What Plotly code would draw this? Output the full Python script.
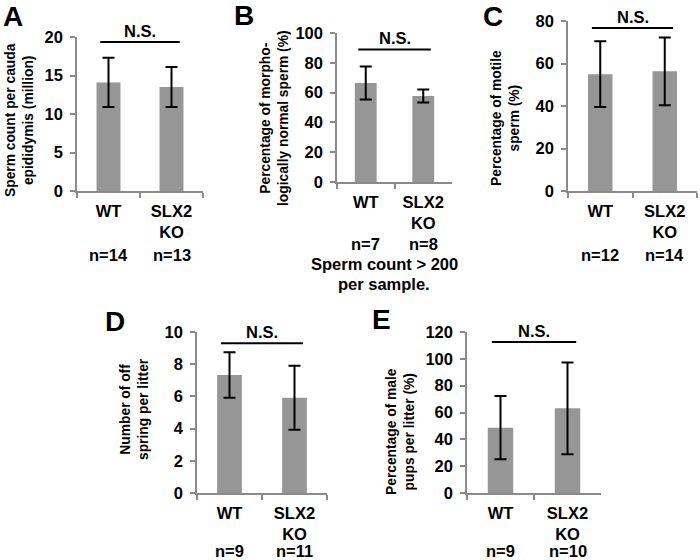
import plotly.graph_objects as go

# ---------------- data ----------------
categories = ["WT", "SLX2<br>KO"]

A_mean = [14.1, 13.5]
A_err = [3.2, 2.6]
A_n = ["n=14", "n=13"]

B_mean = [66.4, 57.7]
B_err = [11.1, 4.3]
B_n = ["n=7", "n=8"]

C_mean = [55.0, 56.3]
C_err = [15.5, 15.9]
C_n = ["n=12", "n=14"]

D_mean = [7.33, 5.92]
D_err = [1.42, 1.99]
D_n = ["n=9", "n=11"]

E_mean = [48.7, 63.1]
E_err = [23.6, 34.2]
E_n = ["n=9", "n=10"]

A_ticks = [0, 5, 10, 15, 20]
B_ticks = [0, 20, 40, 60, 80, 100]
C_ticks = [0, 20, 40, 60, 80]
D_ticks = [0, 2, 4, 6, 8, 10]
E_ticks = [0, 20, 40, 60, 80, 100, 120]

ns_label = "N.S."
B_note = ["Sperm count > 200", "per sample."]

# ---------------- layout helpers ----------------
W, H = 700, 560
FONT = "Liberation Sans, Arial, sans-serif"
AX = "#8a8a8a"
BAR = "#969696"
FS = 16.5


def px_x(x):
    return x / W


def px_y(y):
    return 1 - y / H


panels = [
    dict(letter="A", mean=A_mean, err=A_err, n=A_n, ticks=A_ticks, ymax=20,
         xpx=(77, 203), ypx=(37, 191), title="Sperm count per cauda<br>epididymis (million)",
         tpos=(19, 120), lpos=(13, 16), ns=19.35, ny=255),
    dict(letter="B", mean=B_mean, err=B_err, n=B_n, ticks=B_ticks, ymax=100,
         xpx=(337, 452), ypx=(33, 182), title="Percentage of morpho-<br>logically normal sperm (%)",
         tpos=(274, 118), lpos=(244, 15), ns=89, ny=244),
    dict(letter="C", mean=C_mean, err=C_err, n=C_n, ticks=C_ticks, ymax=80,
         xpx=(568, 697), ypx=(21, 191), title="Percentage of motile<br>sperm (%)",
         tpos=(505, 118), lpos=(493, 16), ns=76.7, ny=255),
    dict(letter="D", mean=D_mean, err=D_err, n=D_n, ticks=D_ticks, ymax=10,
         xpx=(197, 327), ypx=(332, 493), title="Number of off<br>spring per litter",
         tpos=(134, 409), lpos=(115, 321), ns=9.3, ny=551),
    dict(letter="E", mean=E_mean, err=E_err, n=E_n, ticks=E_ticks, ymax=120,
         xpx=(467, 601), ypx=(332, 493), title="Percentage of male<br>pups per litter (%)",
         tpos=(400, 432), lpos=(381, 319), ns=112.5, ny=551),
]

fig = go.Figure()
annotations = []
shapes = []
layout = {}

for i, p in enumerate(panels, start=1):
    xa = "x" if i == 1 else f"x{i}"
    ya = "y" if i == 1 else f"y{i}"
    fig.add_trace(go.Bar(
        x=categories, y=p["mean"], xaxis=xa, yaxis=ya,
        width=[0.38, 0.38], marker=dict(color=BAR, line=dict(width=0)),
        error_y=dict(type="data", array=p["err"], visible=True,
                     color="black", thickness=2, width=6),
        hoverinfo="skip",
    ))
    x0, x1 = p["xpx"]
    yt, yb = p["ypx"]
    layout["xaxis" if i == 1 else f"xaxis{i}"] = dict(
        domain=[px_x(x0), px_x(x1)], anchor=ya, type="category",
        range=[-0.5, 1.5], showgrid=False, zeroline=False, automargin=False,
        showline=True, linecolor=AX, linewidth=1.5,
        ticks="outside", tickson="boundaries", ticklen=5, tickcolor=AX, tickwidth=1.5,
        tickfont=dict(family=FONT, size=FS, color="black", weight="bold"),
        ticklabelstandoff=4, fixedrange=True,
    )
    layout["yaxis" if i == 1 else f"yaxis{i}"] = dict(
        domain=[px_y(yb), px_y(yt)], anchor=xa, automargin=False,
        range=[0, p["ymax"]], tickvals=p["ticks"], showgrid=False, zeroline=False,
        showline=True, linecolor=AX, linewidth=1.5,
        ticks="outside", ticklen=5, tickcolor=AX, tickwidth=1.5,
        tickfont=dict(family=FONT, size=FS, color="black", weight="bold"),
        ticklabelstandoff=4, fixedrange=True,
    )
    # N.S. bracket
    shapes.append(dict(type="line", xref=xa, yref=ya, x0=-0.13, x1=1.13,
                       y0=p["ns"], y1=p["ns"], line=dict(color="black", width=2)))
    annotations.append(dict(text=ns_label, xref=xa, yref=ya, x=0.5, y=p["ns"],
                            yanchor="bottom", showarrow=False, yshift=0,
                            font=dict(family=FONT, size=FS, color="black", weight="bold")))
    # panel letter
    annotations.append(dict(text=p["letter"], xref="paper", yref="paper",
                            x=px_x(p["lpos"][0]), y=px_y(p["lpos"][1]),
                            xanchor="center", yanchor="middle", showarrow=False,
                            font=dict(family=FONT, size=28, color="black", weight="bold")))
    # y title
    annotations.append(dict(text=p["title"], xref="paper", yref="paper",
                            x=px_x(p["tpos"][0]), y=px_y(p["tpos"][1]),
                            xanchor="center", yanchor="middle", textangle=-90,
                            showarrow=False,
                            font=dict(family=FONT, size=13.8, color="black", weight="bold")))
    # n labels
    for j, lab in enumerate(p["n"]):
        annotations.append(dict(text=lab, xref=xa, yref="paper", x=j,
                                y=px_y(p["ny"]), xanchor="center", yanchor="middle",
                                showarrow=False,
                                font=dict(family=FONT, size=FS, color="black", weight="bold")))

# B footnote
for line, ypx in zip(B_note, [264, 284]):
    annotations.append(dict(text=line, xref="paper", yref="paper", x=px_x(384),
                            y=px_y(ypx), xanchor="center", yanchor="middle",
                            showarrow=False,
                            font=dict(family=FONT, size=FS, color="black", weight="bold")))

fig.update_layout(
    width=W, height=H, margin=dict(l=0, r=0, t=0, b=0, autoexpand=False),
    paper_bgcolor="white", plot_bgcolor="white", showlegend=False,
    annotations=annotations, shapes=shapes, **layout,
)

fig.write_html(
    "out.html",
    config={"displayModeBar": False},
    post_script="document.body.style.margin='0';document.body.style.overflow='hidden';",
)
